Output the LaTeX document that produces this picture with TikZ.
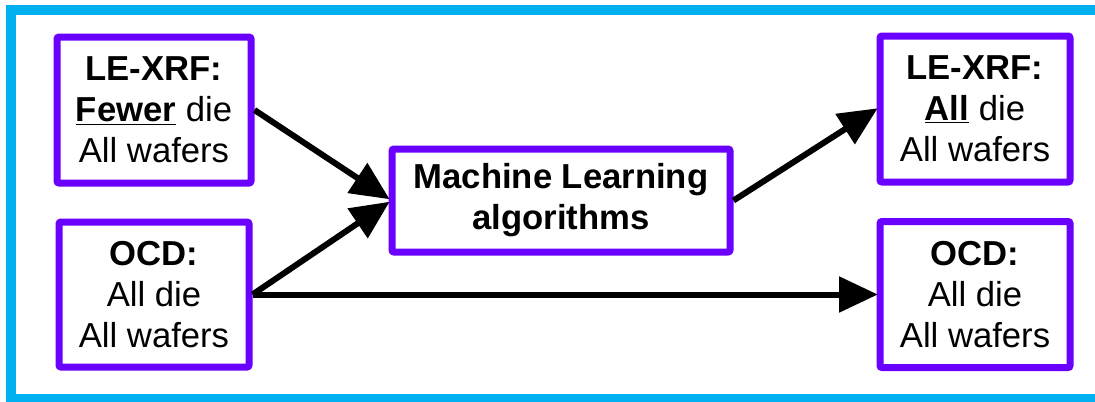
\documentclass[tikz,border=0pt]{standalone}
\usepackage{fontspec}
\setmainfont{Liberation Sans}
\usetikzlibrary{arrows.meta, positioning}

\definecolor{framecyan}{RGB}{0,176,240}
\definecolor{boxviolet}{RGB}{106,0,255}

\begin{document}
\begin{tikzpicture}[
x=0.75pt, y=-0.75pt,
box/.style={draw=boxviolet, line width=5.25pt, rectangle, rounded corners=1.5pt, fill=white, align=center, inner sep=0pt,
  font=\fontsize{26}{30.75}\selectfont},
arrow/.style={-{Triangle[length=29pt, width=26pt]}, line width=4.5pt, shorten >=-1pt}
]
\useasboundingbox (0,0) rectangle (1095,401);
\draw[framecyan, line width=7.5pt] (10.5,10) rectangle (1102,399);

\node[box, minimum width=194*0.75pt, minimum height=146*0.75pt] (lxrf) at (154,110)
{\textbf{LE-XRF:}\\
\underline{\textbf{Fewer}} die\\
All wafers};

\node[box, minimum width=190*0.75pt, minimum height=145*0.75pt] (locd) at (154,294.5)
{\textbf{OCD:}\\
All die\\
All wafers};

\node[box, minimum width=338*0.75pt, minimum height=103*0.75pt] (ml) at (561,200.5)
{\textbf{Machine Learning}\\
\textbf{algorithms}};

\node[box, minimum width=190*0.75pt, minimum height=146*0.75pt] (rxrf) at (975,109)
{\textbf{LE-XRF:}\\
\underline{\textbf{All}} die\\
All wafers};

\node[box, minimum width=190*0.75pt, minimum height=146*0.75pt] (rocd) at (975,294.5)
{\textbf{OCD:}\\
All die\\
All wafers};

\draw[arrow] (lxrf.east) -- ([yshift=1.5pt]ml.west);
\draw[arrow] (locd.east) -- ([yshift=-1.5pt]ml.west);
\draw[arrow] (ml.east) -- (rxrf.west);
\draw[arrow] (locd.east) -- (rocd.west);

\end{tikzpicture}
\end{document}
